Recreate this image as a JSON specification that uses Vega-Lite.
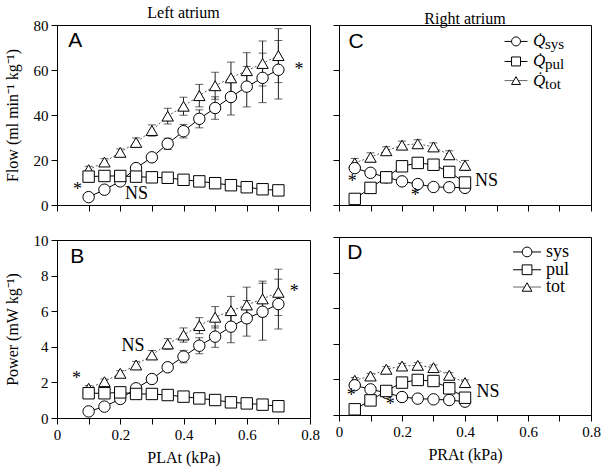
{
  "$schema": "https://vega.github.io/schema/vega-lite/v6.json",
  "padding": {"left": 3, "top": 4, "right": 0, "bottom": 1},
  "background": "white",
  "datasets": {
    "d": [
      {"p":"A","s":"sys","x":0.1,"y":3.5,"e":0},{"p":"A","s":"sys","x":0.15,"y":6.8,"e":0.5},{"p":"A","s":"sys","x":0.2,"y":10.5,"e":0.8},{"p":"A","s":"sys","x":0.25,"y":16.4,"e":1},{"p":"A","s":"sys","x":0.3,"y":21.2,"e":1.5},{"p":"A","s":"sys","x":0.35,"y":27.2,"e":2.5},{"p":"A","s":"sys","x":0.4,"y":32.8,"e":3},{"p":"A","s":"sys","x":0.45,"y":38.3,"e":4},{"p":"A","s":"sys","x":0.5,"y":43.1,"e":5},{"p":"A","s":"sys","x":0.55,"y":48.0,"e":8},{"p":"A","s":"sys","x":0.6,"y":52.6,"e":9},{"p":"A","s":"sys","x":0.65,"y":56.5,"e":11},{"p":"A","s":"sys","x":0.7,"y":60.1,"e":13},
      {"p":"A","s":"tot","x":0.1,"y":15.7,"e":1.5},{"p":"A","s":"tot","x":0.15,"y":19.1,"e":1.5},{"p":"A","s":"tot","x":0.2,"y":23.4,"e":1.5},{"p":"A","s":"tot","x":0.25,"y":27.8,"e":2},{"p":"A","s":"tot","x":0.3,"y":33.1,"e":2.5},{"p":"A","s":"tot","x":0.35,"y":39.5,"e":3.5},{"p":"A","s":"tot","x":0.4,"y":43.9,"e":4},{"p":"A","s":"tot","x":0.45,"y":48.6,"e":5},{"p":"A","s":"tot","x":0.5,"y":53.0,"e":6},{"p":"A","s":"tot","x":0.55,"y":56.5,"e":7},{"p":"A","s":"tot","x":0.6,"y":59.7,"e":8},{"p":"A","s":"tot","x":0.65,"y":62.9,"e":10},{"p":"A","s":"tot","x":0.7,"y":66.4,"e":12},
      {"p":"A","s":"pul","x":0.1,"y":12.6,"e":0.8},{"p":"A","s":"pul","x":0.15,"y":12.9,"e":0.8},{"p":"A","s":"pul","x":0.2,"y":12.9,"e":0.8},{"p":"A","s":"pul","x":0.25,"y":12.6,"e":0.8},{"p":"A","s":"pul","x":0.3,"y":12.3,"e":0.8},{"p":"A","s":"pul","x":0.35,"y":12.1,"e":0.8},{"p":"A","s":"pul","x":0.4,"y":11.2,"e":0.8},{"p":"A","s":"pul","x":0.45,"y":10.5,"e":0.8},{"p":"A","s":"pul","x":0.5,"y":9.7,"e":0.8},{"p":"A","s":"pul","x":0.55,"y":8.8,"e":0.8},{"p":"A","s":"pul","x":0.6,"y":7.9,"e":0.8},{"p":"A","s":"pul","x":0.65,"y":7.0,"e":0.8},{"p":"A","s":"pul","x":0.7,"y":6.5,"e":0.8},
      {"p":"B","s":"sys","x":0.1,"y":0.37,"e":0},{"p":"B","s":"sys","x":0.15,"y":0.64,"e":0.05},{"p":"B","s":"sys","x":0.2,"y":1.07,"e":0.08},{"p":"B","s":"sys","x":0.25,"y":1.67,"e":0.1},{"p":"B","s":"sys","x":0.3,"y":2.19,"e":0.15},{"p":"B","s":"sys","x":0.35,"y":2.85,"e":0.2},{"p":"B","s":"sys","x":0.4,"y":3.45,"e":0.35},{"p":"B","s":"sys","x":0.45,"y":4.06,"e":0.45},{"p":"B","s":"sys","x":0.5,"y":4.57,"e":0.6},{"p":"B","s":"sys","x":0.55,"y":5.13,"e":0.9},{"p":"B","s":"sys","x":0.6,"y":5.6,"e":1.0},{"p":"B","s":"sys","x":0.65,"y":5.97,"e":1.6},{"p":"B","s":"sys","x":0.7,"y":6.4,"e":1.4},
      {"p":"B","s":"tot","x":0.1,"y":1.67,"e":0.15},{"p":"B","s":"tot","x":0.15,"y":2.04,"e":0.15},{"p":"B","s":"tot","x":0.2,"y":2.51,"e":0.15},{"p":"B","s":"tot","x":0.25,"y":2.98,"e":0.2},{"p":"B","s":"tot","x":0.3,"y":3.54,"e":0.25},{"p":"B","s":"tot","x":0.35,"y":4.16,"e":0.3},{"p":"B","s":"tot","x":0.4,"y":4.66,"e":0.4},{"p":"B","s":"tot","x":0.45,"y":5.19,"e":0.45},{"p":"B","s":"tot","x":0.5,"y":5.66,"e":0.6},{"p":"B","s":"tot","x":0.55,"y":6.03,"e":0.8},{"p":"B","s":"tot","x":0.6,"y":6.35,"e":1.0},{"p":"B","s":"tot","x":0.65,"y":6.69,"e":1.0},{"p":"B","s":"tot","x":0.7,"y":7.06,"e":1.3},
      {"p":"B","s":"pul","x":0.1,"y":1.39,"e":0.08},{"p":"B","s":"pul","x":0.15,"y":1.39,"e":0.08},{"p":"B","s":"pul","x":0.2,"y":1.44,"e":0.08},{"p":"B","s":"pul","x":0.25,"y":1.35,"e":0.08},{"p":"B","s":"pul","x":0.3,"y":1.35,"e":0.08},{"p":"B","s":"pul","x":0.35,"y":1.29,"e":0.08},{"p":"B","s":"pul","x":0.4,"y":1.2,"e":0.08},{"p":"B","s":"pul","x":0.45,"y":1.1,"e":0.08},{"p":"B","s":"pul","x":0.5,"y":1.01,"e":0.08},{"p":"B","s":"pul","x":0.55,"y":0.88,"e":0.08},{"p":"B","s":"pul","x":0.6,"y":0.82,"e":0.08},{"p":"B","s":"pul","x":0.65,"y":0.75,"e":0.08},{"p":"B","s":"pul","x":0.7,"y":0.66,"e":0.08},
      {"p":"C","s":"tot","x":0.05,"y":18.7,"e":2},{"p":"C","s":"tot","x":0.1,"y":21.2,"e":2},{"p":"C","s":"tot","x":0.15,"y":24.1,"e":1.8},{"p":"C","s":"tot","x":0.2,"y":26.6,"e":1.8},{"p":"C","s":"tot","x":0.25,"y":27.2,"e":1.8},{"p":"C","s":"tot","x":0.3,"y":25.8,"e":1.8},{"p":"C","s":"tot","x":0.35,"y":22.3,"e":1.8},{"p":"C","s":"tot","x":0.4,"y":17.6,"e":2.2},
      {"p":"C","s":"sys","x":0.05,"y":16.4,"e":0.8},{"p":"C","s":"sys","x":0.1,"y":14.3,"e":0.8},{"p":"C","s":"sys","x":0.15,"y":12.3,"e":0.8},{"p":"C","s":"sys","x":0.2,"y":10.5,"e":0.8},{"p":"C","s":"sys","x":0.25,"y":9.3,"e":0.8},{"p":"C","s":"sys","x":0.3,"y":8.0,"e":0.8},{"p":"C","s":"sys","x":0.35,"y":7.9,"e":0.8},{"p":"C","s":"sys","x":0.4,"y":7.6,"e":0.8},
      {"p":"C","s":"pul","x":0.05,"y":2.7,"e":1},{"p":"C","s":"pul","x":0.1,"y":7.6,"e":1},{"p":"C","s":"pul","x":0.15,"y":12.3,"e":1},{"p":"C","s":"pul","x":0.2,"y":17.2,"e":1},{"p":"C","s":"pul","x":0.25,"y":18.7,"e":1},{"p":"C","s":"pul","x":0.3,"y":17.9,"e":1},{"p":"C","s":"pul","x":0.35,"y":14.7,"e":1},{"p":"C","s":"pul","x":0.4,"y":10.0,"e":1},
      {"p":"D","s":"tot","x":0.05,"y":1.95,"e":0.15},{"p":"D","s":"tot","x":0.1,"y":2.19,"e":0.15},{"p":"D","s":"tot","x":0.15,"y":2.57,"e":0.15},{"p":"D","s":"tot","x":0.2,"y":2.75,"e":0.15},{"p":"D","s":"tot","x":0.25,"y":2.79,"e":0.15},{"p":"D","s":"tot","x":0.3,"y":2.66,"e":0.15},{"p":"D","s":"tot","x":0.35,"y":2.23,"e":0.15},{"p":"D","s":"tot","x":0.4,"y":1.82,"e":0.15},
      {"p":"D","s":"sys","x":0.05,"y":1.67,"e":0.08},{"p":"D","s":"sys","x":0.1,"y":1.44,"e":0.08},{"p":"D","s":"sys","x":0.15,"y":1.25,"e":0.08},{"p":"D","s":"sys","x":0.2,"y":1.01,"e":0.08},{"p":"D","s":"sys","x":0.25,"y":0.92,"e":0.08},{"p":"D","s":"sys","x":0.3,"y":0.88,"e":0.08},{"p":"D","s":"sys","x":0.35,"y":0.84,"e":0.08},{"p":"D","s":"sys","x":0.4,"y":0.75,"e":0.08},
      {"p":"D","s":"pul","x":0.05,"y":0.32,"e":0.08},{"p":"D","s":"pul","x":0.1,"y":0.82,"e":0.08},{"p":"D","s":"pul","x":0.15,"y":1.35,"e":0.08},{"p":"D","s":"pul","x":0.2,"y":1.82,"e":0.08},{"p":"D","s":"pul","x":0.25,"y":1.97,"e":0.08},{"p":"D","s":"pul","x":0.3,"y":1.91,"e":0.08},{"p":"D","s":"pul","x":0.35,"y":1.5,"e":0.08},{"p":"D","s":"pul","x":0.4,"y":0.97,"e":0.08}
    ],
    "t": [
      {"p":"A","k":"L","x":0.058,"y":73.0,"txt":"A"},{"p":"A","k":"N","x":0.065,"y":6.8,"txt":"*"},{"p":"A","k":"N","x":0.251,"y":5.0,"txt":"NS"},{"p":"A","k":"N","x":0.765,"y":60.2,"txt":"*"},
      {"p":"B","k":"L","x":0.064,"y":9.05,"txt":"B"},{"p":"B","k":"N","x":0.062,"y":2.19,"txt":"*"},{"p":"B","k":"N","x":0.24,"y":4.06,"txt":"NS"},{"p":"B","k":"N","x":0.75,"y":7.06,"txt":"*"},
      {"p":"C","k":"L","x":0.054,"y":72.5,"txt":"C"},{"p":"C","k":"N","x":0.042,"y":10.2,"txt":"*"},{"p":"C","k":"N","x":0.242,"y":3.8,"txt":"*"},{"p":"C","k":"N","x":0.468,"y":10.5,"txt":"NS"},
      {"p":"D","k":"L","x":0.05,"y":9.08,"txt":"D"},{"p":"D","k":"N","x":0.039,"y":1.07,"txt":"*"},{"p":"D","k":"N","x":0.163,"y":0.54,"txt":"*"},{"p":"D","k":"N","x":0.473,"y":1.31,"txt":"NS"}
    ],
    "k": [
      {"p":"C","s":"sys","x":0.562,"y":72.7,"q":"Q\u0307","sub":"sys"},
      {"p":"C","s":"pul","x":0.562,"y":63.8,"q":"Q\u0307","sub":"pul"},
      {"p":"C","s":"tot","x":0.562,"y":55.3,"q":"Q\u0307","sub":"tot"},
      {"p":"D","s":"sys","x":0.597,"y":9.16,"q":"","sub":"sys"},
      {"p":"D","s":"pul","x":0.597,"y":8.16,"q":"","sub":"pul"},
      {"p":"D","s":"tot","x":0.597,"y":7.19,"q":"","sub":"tot"}
    ]
  },
  "spacing": 12,
  "resolve": {"scale": {"x": "independent", "y": "independent", "shape": "independent"}},
  "hconcat": [
    {
      "spacing": 18,
      "resolve": {"scale": {"x": "independent", "y": "independent", "shape": "independent"}},
      "vconcat": [
        {
          "width": 253, "height": 180,
          "title": {"text": "Left atrium", "font": "Liberation Serif", "fontSize": 16, "fontWeight": "normal", "offset": -2.5},
          "layer": [
            {"data": {"name": "d"}, "transform": [{"filter": "datum.p=='A'"}],
             "mark": {"type": "errorbar", "ticks": {"size": 8}, "color": "#222", "thickness": 1},
             "encoding": {"x": {"field": "x", "type": "quantitative", "scale": {"domain": [0, 0.8], "nice": false}, "axis": {"values": [0, 0.1, 0.2, 0.3, 0.4, 0.5, 0.6, 0.7, 0.8], "labels": false, "title": null, "labelOverlap": false}},
                          "y": {"field": "y", "type": "quantitative", "scale": {"domain": [0, 80], "nice": false}, "axis": {"values": [0, 20, 40, 60, 80], "labelOverlap": false, "title": "Flow (ml min⁻¹ kg⁻¹)", "titlePadding": 13}},
                          "yError": {"field": "e"}}},
            {"data": {"name": "d"}, "transform": [{"filter": "datum.p=='A' && datum.s!='tot'"}],
             "mark": {"type": "line", "strokeWidth": 1, "color": "black"},
             "encoding": {"x": {"field": "x", "type": "quantitative", "axis": {"values": [0, 0.1, 0.2, 0.3, 0.4, 0.5, 0.6, 0.7, 0.8], "labels": false, "title": null, "labelOverlap": false}},
                          "y": {"field": "y", "type": "quantitative", "axis": {"values": [0, 20, 40, 60, 80], "labelOverlap": false, "title": "Flow (ml min⁻¹ kg⁻¹)", "titlePadding": 13}}, "detail": {"field": "s"}}},
            {"data": {"name": "d"}, "transform": [{"filter": "datum.p=='A' && datum.s=='tot'"}],
             "mark": {"type": "line", "strokeWidth": 1, "color": "#555", "strokeDash": [2, 2]},
             "encoding": {"x": {"field": "x", "type": "quantitative", "axis": {"values": [0, 0.1, 0.2, 0.3, 0.4, 0.5, 0.6, 0.7, 0.8], "labels": false, "title": null, "labelOverlap": false}},
                          "y": {"field": "y", "type": "quantitative", "axis": {"values": [0, 20, 40, 60, 80], "labelOverlap": false, "title": "Flow (ml min⁻¹ kg⁻¹)", "titlePadding": 13}}}},
            {"data": {"name": "d"}, "transform": [{"filter": "datum.p=='A'"}],
             "mark": {"type": "point", "fill": "white", "fillOpacity": 1, "stroke": "black", "strokeWidth": 1, "opacity": 1, "size": 130},
             "encoding": {"x": {"field": "x", "type": "quantitative", "axis": {"values": [0, 0.1, 0.2, 0.3, 0.4, 0.5, 0.6, 0.7, 0.8], "labels": false, "title": null, "labelOverlap": false}},
                          "y": {"field": "y", "type": "quantitative", "axis": {"values": [0, 20, 40, 60, 80], "labelOverlap": false, "title": "Flow (ml min⁻¹ kg⁻¹)", "titlePadding": 13}},
                          "shape": {"field": "s", "scale": {"domain": ["sys", "pul", "tot"], "range": ["circle", "square", "triangle-up"]}, "legend": null}}},
            {"data": {"name": "t"}, "transform": [{"filter": "datum.p=='A' && datum.k=='L'"}],
             "mark": {"type": "text", "font": "Liberation Sans", "fontSize": 21, "baseline": "middle", "align": "center"},
             "encoding": {"x": {"field": "x", "type": "quantitative", "axis": {"values": [0, 0.1, 0.2, 0.3, 0.4, 0.5, 0.6, 0.7, 0.8], "labels": false, "title": null, "labelOverlap": false}},
                          "y": {"field": "y", "type": "quantitative", "axis": {"values": [0, 20, 40, 60, 80], "labelOverlap": false, "title": "Flow (ml min⁻¹ kg⁻¹)", "titlePadding": 13}}, "text": {"field": "txt"}}},
            {"data": {"name": "t"}, "transform": [{"filter": "datum.p=='A' && datum.k=='N'"}],
             "mark": {"type": "text", "font": "Liberation Serif", "fontSize": 18, "baseline": "middle", "align": "center"},
             "encoding": {"x": {"field": "x", "type": "quantitative", "axis": {"values": [0, 0.1, 0.2, 0.3, 0.4, 0.5, 0.6, 0.7, 0.8], "labels": false, "title": null, "labelOverlap": false}},
                          "y": {"field": "y", "type": "quantitative", "axis": {"values": [0, 20, 40, 60, 80], "labelOverlap": false, "title": "Flow (ml min⁻¹ kg⁻¹)", "titlePadding": 13}}, "text": {"field": "txt"}}}
          ]
        },
        {
          "width": 253, "height": 178,
          "layer": [
            {"data": {"name": "d"}, "transform": [{"filter": "datum.p=='B'"}],
             "mark": {"type": "errorbar", "ticks": {"size": 8}, "color": "#222", "thickness": 1},
             "encoding": {"x": {"field": "x", "type": "quantitative", "scale": {"domain": [0, 0.8], "nice": false}, "axis": {"values": [0, 0.1, 0.2, 0.3, 0.4, 0.5, 0.6, 0.7, 0.8], "labelOverlap": false, "labelExpr": "round(datum.value*10) % 2 == 0 ? (datum.value == 0 ? '0' : format(datum.value, '.1f')) : ''", "title": "PLAt (kPa)", "titlePadding": 7}},
                          "y": {"field": "y", "type": "quantitative", "scale": {"domain": [0, 10], "nice": false}, "axis": {"values": [0, 2, 4, 6, 8, 10], "labelOverlap": false, "title": "Power (mW kg⁻¹)", "titlePadding": 13}},
                          "yError": {"field": "e"}}},
            {"data": {"name": "d"}, "transform": [{"filter": "datum.p=='B' && datum.s!='tot'"}],
             "mark": {"type": "line", "strokeWidth": 1, "color": "black"},
             "encoding": {"x": {"field": "x", "type": "quantitative", "axis": {"values": [0, 0.1, 0.2, 0.3, 0.4, 0.5, 0.6, 0.7, 0.8], "labelOverlap": false, "labelExpr": "round(datum.value*10) % 2 == 0 ? (datum.value == 0 ? '0' : format(datum.value, '.1f')) : ''", "title": "PLAt (kPa)", "titlePadding": 7}},
                          "y": {"field": "y", "type": "quantitative", "axis": {"values": [0, 2, 4, 6, 8, 10], "labelOverlap": false, "title": "Power (mW kg⁻¹)", "titlePadding": 13}}, "detail": {"field": "s"}}},
            {"data": {"name": "d"}, "transform": [{"filter": "datum.p=='B' && datum.s=='tot'"}],
             "mark": {"type": "line", "strokeWidth": 1, "color": "#555", "strokeDash": [2, 2]},
             "encoding": {"x": {"field": "x", "type": "quantitative", "axis": {"values": [0, 0.1, 0.2, 0.3, 0.4, 0.5, 0.6, 0.7, 0.8], "labelOverlap": false, "labelExpr": "round(datum.value*10) % 2 == 0 ? (datum.value == 0 ? '0' : format(datum.value, '.1f')) : ''", "title": "PLAt (kPa)", "titlePadding": 7}},
                          "y": {"field": "y", "type": "quantitative", "axis": {"values": [0, 2, 4, 6, 8, 10], "labelOverlap": false, "title": "Power (mW kg⁻¹)", "titlePadding": 13}}}},
            {"data": {"name": "d"}, "transform": [{"filter": "datum.p=='B'"}],
             "mark": {"type": "point", "fill": "white", "fillOpacity": 1, "stroke": "black", "strokeWidth": 1, "opacity": 1, "size": 130},
             "encoding": {"x": {"field": "x", "type": "quantitative", "axis": {"values": [0, 0.1, 0.2, 0.3, 0.4, 0.5, 0.6, 0.7, 0.8], "labelOverlap": false, "labelExpr": "round(datum.value*10) % 2 == 0 ? (datum.value == 0 ? '0' : format(datum.value, '.1f')) : ''", "title": "PLAt (kPa)", "titlePadding": 7}},
                          "y": {"field": "y", "type": "quantitative", "axis": {"values": [0, 2, 4, 6, 8, 10], "labelOverlap": false, "title": "Power (mW kg⁻¹)", "titlePadding": 13}},
                          "shape": {"field": "s", "scale": {"domain": ["sys", "pul", "tot"], "range": ["circle", "square", "triangle-up"]}, "legend": null}}},
            {"data": {"name": "t"}, "transform": [{"filter": "datum.p=='B' && datum.k=='L'"}],
             "mark": {"type": "text", "font": "Liberation Sans", "fontSize": 21, "baseline": "middle", "align": "center"},
             "encoding": {"x": {"field": "x", "type": "quantitative", "axis": {"values": [0, 0.1, 0.2, 0.3, 0.4, 0.5, 0.6, 0.7, 0.8], "labelOverlap": false, "labelExpr": "round(datum.value*10) % 2 == 0 ? (datum.value == 0 ? '0' : format(datum.value, '.1f')) : ''", "title": "PLAt (kPa)", "titlePadding": 7}},
                          "y": {"field": "y", "type": "quantitative", "axis": {"values": [0, 2, 4, 6, 8, 10], "labelOverlap": false, "title": "Power (mW kg⁻¹)", "titlePadding": 13}}, "text": {"field": "txt"}}},
            {"data": {"name": "t"}, "transform": [{"filter": "datum.p=='B' && datum.k=='N'"}],
             "mark": {"type": "text", "font": "Liberation Serif", "fontSize": 18, "baseline": "middle", "align": "center"},
             "encoding": {"x": {"field": "x", "type": "quantitative", "axis": {"values": [0, 0.1, 0.2, 0.3, 0.4, 0.5, 0.6, 0.7, 0.8], "labelOverlap": false, "labelExpr": "round(datum.value*10) % 2 == 0 ? (datum.value == 0 ? '0' : format(datum.value, '.1f')) : ''", "title": "PLAt (kPa)", "titlePadding": 7}},
                          "y": {"field": "y", "type": "quantitative", "axis": {"values": [0, 2, 4, 6, 8, 10], "labelOverlap": false, "title": "Power (mW kg⁻¹)", "titlePadding": 13}}, "text": {"field": "txt"}}}
          ]
        }
      ]
    },
    {
      "spacing": 24,
      "resolve": {"scale": {"x": "independent", "y": "independent", "shape": "independent"}},
      "vconcat": [
        {
          "width": 252, "height": 180,
          "title": {"text": "Right atrium", "font": "Liberation Serif", "fontSize": 16, "fontWeight": "normal", "offset": -2.5},
          "layer": [
            {"data": {"name": "d"}, "transform": [{"filter": "datum.p=='C'"}],
             "mark": {"type": "errorbar", "ticks": {"size": 8}, "color": "#222", "thickness": 1},
             "encoding": {"x": {"field": "x", "type": "quantitative", "scale": {"domain": [0, 0.8], "nice": false}, "axis": {"values": [0, 0.1, 0.2, 0.3, 0.4, 0.5, 0.6, 0.7, 0.8], "labels": false, "title": null, "labelOverlap": false}},
                          "y": {"field": "y", "type": "quantitative", "scale": {"domain": [0, 80], "nice": false}, "axis": {"values": [0, 20, 40, 60, 80], "labels": false, "title": null, "labelOverlap": false}},
                          "yError": {"field": "e"}}},
            {"data": {"name": "d"}, "transform": [{"filter": "datum.p=='C' && datum.s!='tot'"}],
             "mark": {"type": "line", "strokeWidth": 1, "color": "black"},
             "encoding": {"x": {"field": "x", "type": "quantitative", "axis": {"values": [0, 0.1, 0.2, 0.3, 0.4, 0.5, 0.6, 0.7, 0.8], "labels": false, "title": null, "labelOverlap": false}},
                          "y": {"field": "y", "type": "quantitative", "axis": {"values": [0, 20, 40, 60, 80], "labels": false, "title": null, "labelOverlap": false}}, "detail": {"field": "s"}}},
            {"data": {"name": "d"}, "transform": [{"filter": "datum.p=='C' && datum.s=='tot'"}],
             "mark": {"type": "line", "strokeWidth": 1, "color": "#555", "strokeDash": [2, 2]},
             "encoding": {"x": {"field": "x", "type": "quantitative", "axis": {"values": [0, 0.1, 0.2, 0.3, 0.4, 0.5, 0.6, 0.7, 0.8], "labels": false, "title": null, "labelOverlap": false}},
                          "y": {"field": "y", "type": "quantitative", "axis": {"values": [0, 20, 40, 60, 80], "labels": false, "title": null, "labelOverlap": false}}}},
            {"data": {"name": "d"}, "transform": [{"filter": "datum.p=='C'"}],
             "mark": {"type": "point", "fill": "white", "fillOpacity": 1, "stroke": "black", "strokeWidth": 1, "opacity": 1, "size": 130},
             "encoding": {"x": {"field": "x", "type": "quantitative", "axis": {"values": [0, 0.1, 0.2, 0.3, 0.4, 0.5, 0.6, 0.7, 0.8], "labels": false, "title": null, "labelOverlap": false}},
                          "y": {"field": "y", "type": "quantitative", "axis": {"values": [0, 20, 40, 60, 80], "labels": false, "title": null, "labelOverlap": false}},
                          "shape": {"field": "s", "scale": {"domain": ["sys", "pul", "tot"], "range": ["circle", "square", "triangle-up"]}, "legend": null}}},
            {"data": {"name": "k"}, "transform": [{"filter": "datum.p=='C' && datum.s!='tot'"}],
             "mark": {"type": "tick", "orient": "horizontal", "size": 23, "thickness": 1, "color": "black", "opacity": 1},
             "encoding": {"x": {"field": "x", "type": "quantitative", "axis": {"values": [0, 0.1, 0.2, 0.3, 0.4, 0.5, 0.6, 0.7, 0.8], "labels": false, "title": null, "labelOverlap": false}},
                          "y": {"field": "y", "type": "quantitative", "axis": {"values": [0, 20, 40, 60, 80], "labels": false, "title": null, "labelOverlap": false}}}},
            {"data": {"name": "k"}, "transform": [{"filter": "datum.p=='C' && datum.s=='tot'"}],
             "mark": {"type": "tick", "orient": "horizontal", "size": 23, "thickness": 1, "color": "#666", "opacity": 1, "strokeDash": [1.5, 1.5]},
             "encoding": {"x": {"field": "x", "type": "quantitative", "axis": {"values": [0, 0.1, 0.2, 0.3, 0.4, 0.5, 0.6, 0.7, 0.8], "labels": false, "title": null, "labelOverlap": false}},
                          "y": {"field": "y", "type": "quantitative", "axis": {"values": [0, 20, 40, 60, 80], "labels": false, "title": null, "labelOverlap": false}}}},
            {"data": {"name": "k"}, "transform": [{"filter": "datum.p=='C'"}],
             "mark": {"type": "point", "fill": "white", "fillOpacity": 1, "stroke": "black", "strokeWidth": 1, "opacity": 1, "size": 80},
             "encoding": {"x": {"field": "x", "type": "quantitative", "axis": {"values": [0, 0.1, 0.2, 0.3, 0.4, 0.5, 0.6, 0.7, 0.8], "labels": false, "title": null, "labelOverlap": false}},
                          "y": {"field": "y", "type": "quantitative", "axis": {"values": [0, 20, 40, 60, 80], "labels": false, "title": null, "labelOverlap": false}},
                          "shape": {"field": "s", "scale": {"domain": ["sys", "pul", "tot"], "range": ["circle", "square", "triangle-up"]}, "legend": null}}},
            {"data": {"name": "k"}, "transform": [{"filter": "datum.p=='C'"}],
             "mark": {"type": "text", "font": "Liberation Serif", "fontStyle": "italic", "fontSize": 17, "baseline": "middle", "align": "left", "dx": 17},
             "encoding": {"x": {"field": "x", "type": "quantitative", "axis": {"values": [0, 0.1, 0.2, 0.3, 0.4, 0.5, 0.6, 0.7, 0.8], "labels": false, "title": null, "labelOverlap": false}},
                          "y": {"field": "y", "type": "quantitative", "axis": {"values": [0, 20, 40, 60, 80], "labels": false, "title": null, "labelOverlap": false}}, "text": {"field": "q"}}},
            {"data": {"name": "k"}, "transform": [{"filter": "datum.p=='C'"}],
             "mark": {"type": "text", "font": "Liberation Serif", "fontSize": 15, "baseline": "middle", "align": "left", "dx": 29, "dy": 3},
             "encoding": {"x": {"field": "x", "type": "quantitative", "axis": {"values": [0, 0.1, 0.2, 0.3, 0.4, 0.5, 0.6, 0.7, 0.8], "labels": false, "title": null, "labelOverlap": false}},
                          "y": {"field": "y", "type": "quantitative", "axis": {"values": [0, 20, 40, 60, 80], "labels": false, "title": null, "labelOverlap": false}}, "text": {"field": "sub"}}},
            {"data": {"name": "t"}, "transform": [{"filter": "datum.p=='C' && datum.k=='L'"}],
             "mark": {"type": "text", "font": "Liberation Sans", "fontSize": 21, "baseline": "middle", "align": "center"},
             "encoding": {"x": {"field": "x", "type": "quantitative", "axis": {"values": [0, 0.1, 0.2, 0.3, 0.4, 0.5, 0.6, 0.7, 0.8], "labels": false, "title": null, "labelOverlap": false}},
                          "y": {"field": "y", "type": "quantitative", "axis": {"values": [0, 20, 40, 60, 80], "labels": false, "title": null, "labelOverlap": false}}, "text": {"field": "txt"}}},
            {"data": {"name": "t"}, "transform": [{"filter": "datum.p=='C' && datum.k=='N'"}],
             "mark": {"type": "text", "font": "Liberation Serif", "fontSize": 18, "baseline": "middle", "align": "center"},
             "encoding": {"x": {"field": "x", "type": "quantitative", "axis": {"values": [0, 0.1, 0.2, 0.3, 0.4, 0.5, 0.6, 0.7, 0.8], "labels": false, "title": null, "labelOverlap": false}},
                          "y": {"field": "y", "type": "quantitative", "axis": {"values": [0, 20, 40, 60, 80], "labels": false, "title": null, "labelOverlap": false}}, "text": {"field": "txt"}}}
          ]
        },
        {
          "width": 252, "height": 178,
          "layer": [
            {"data": {"name": "d"}, "transform": [{"filter": "datum.p=='D'"}],
             "mark": {"type": "errorbar", "ticks": {"size": 8}, "color": "#222", "thickness": 1},
             "encoding": {"x": {"field": "x", "type": "quantitative", "scale": {"domain": [0, 0.8], "nice": false}, "axis": {"values": [0, 0.1, 0.2, 0.3, 0.4, 0.5, 0.6, 0.7, 0.8], "labelOverlap": false, "labelExpr": "round(datum.value*10) % 2 == 0 ? (datum.value == 0 ? '0' : format(datum.value, '.1f')) : ''", "title": "PRAt (kPa)", "titlePadding": 7}},
                          "y": {"field": "y", "type": "quantitative", "scale": {"domain": [0, 10], "nice": false}, "axis": {"values": [0, 2, 4, 6, 8, 10], "labels": false, "title": null, "labelOverlap": false}},
                          "yError": {"field": "e"}}},
            {"data": {"name": "d"}, "transform": [{"filter": "datum.p=='D' && datum.s!='tot'"}],
             "mark": {"type": "line", "strokeWidth": 1, "color": "black"},
             "encoding": {"x": {"field": "x", "type": "quantitative", "axis": {"values": [0, 0.1, 0.2, 0.3, 0.4, 0.5, 0.6, 0.7, 0.8], "labelOverlap": false, "labelExpr": "round(datum.value*10) % 2 == 0 ? (datum.value == 0 ? '0' : format(datum.value, '.1f')) : ''", "title": "PRAt (kPa)", "titlePadding": 7}},
                          "y": {"field": "y", "type": "quantitative", "axis": {"values": [0, 2, 4, 6, 8, 10], "labels": false, "title": null, "labelOverlap": false}}, "detail": {"field": "s"}}},
            {"data": {"name": "d"}, "transform": [{"filter": "datum.p=='D' && datum.s=='tot'"}],
             "mark": {"type": "line", "strokeWidth": 1, "color": "#555", "strokeDash": [2, 2]},
             "encoding": {"x": {"field": "x", "type": "quantitative", "axis": {"values": [0, 0.1, 0.2, 0.3, 0.4, 0.5, 0.6, 0.7, 0.8], "labelOverlap": false, "labelExpr": "round(datum.value*10) % 2 == 0 ? (datum.value == 0 ? '0' : format(datum.value, '.1f')) : ''", "title": "PRAt (kPa)", "titlePadding": 7}},
                          "y": {"field": "y", "type": "quantitative", "axis": {"values": [0, 2, 4, 6, 8, 10], "labels": false, "title": null, "labelOverlap": false}}}},
            {"data": {"name": "d"}, "transform": [{"filter": "datum.p=='D'"}],
             "mark": {"type": "point", "fill": "white", "fillOpacity": 1, "stroke": "black", "strokeWidth": 1, "opacity": 1, "size": 130},
             "encoding": {"x": {"field": "x", "type": "quantitative", "axis": {"values": [0, 0.1, 0.2, 0.3, 0.4, 0.5, 0.6, 0.7, 0.8], "labelOverlap": false, "labelExpr": "round(datum.value*10) % 2 == 0 ? (datum.value == 0 ? '0' : format(datum.value, '.1f')) : ''", "title": "PRAt (kPa)", "titlePadding": 7}},
                          "y": {"field": "y", "type": "quantitative", "axis": {"values": [0, 2, 4, 6, 8, 10], "labels": false, "title": null, "labelOverlap": false}},
                          "shape": {"field": "s", "scale": {"domain": ["sys", "pul", "tot"], "range": ["circle", "square", "triangle-up"]}, "legend": null}}},
            {"data": {"name": "k"}, "transform": [{"filter": "datum.p=='D' && datum.s!='tot'"}],
             "mark": {"type": "tick", "orient": "horizontal", "size": 28, "thickness": 1, "color": "black", "opacity": 1},
             "encoding": {"x": {"field": "x", "type": "quantitative", "axis": {"values": [0, 0.1, 0.2, 0.3, 0.4, 0.5, 0.6, 0.7, 0.8], "labelOverlap": false, "labelExpr": "round(datum.value*10) % 2 == 0 ? (datum.value == 0 ? '0' : format(datum.value, '.1f')) : ''", "title": "PRAt (kPa)", "titlePadding": 7}},
                          "y": {"field": "y", "type": "quantitative", "axis": {"values": [0, 2, 4, 6, 8, 10], "labels": false, "title": null, "labelOverlap": false}}}},
            {"data": {"name": "k"}, "transform": [{"filter": "datum.p=='D' && datum.s=='tot'"}],
             "mark": {"type": "tick", "orient": "horizontal", "size": 28, "thickness": 1, "color": "#666", "opacity": 1, "strokeDash": [1.5, 1.5]},
             "encoding": {"x": {"field": "x", "type": "quantitative", "axis": {"values": [0, 0.1, 0.2, 0.3, 0.4, 0.5, 0.6, 0.7, 0.8], "labelOverlap": false, "labelExpr": "round(datum.value*10) % 2 == 0 ? (datum.value == 0 ? '0' : format(datum.value, '.1f')) : ''", "title": "PRAt (kPa)", "titlePadding": 7}},
                          "y": {"field": "y", "type": "quantitative", "axis": {"values": [0, 2, 4, 6, 8, 10], "labels": false, "title": null, "labelOverlap": false}}}},
            {"data": {"name": "k"}, "transform": [{"filter": "datum.p=='D'"}],
             "mark": {"type": "point", "fill": "white", "fillOpacity": 1, "stroke": "black", "strokeWidth": 1, "opacity": 1, "size": 95},
             "encoding": {"x": {"field": "x", "type": "quantitative", "axis": {"values": [0, 0.1, 0.2, 0.3, 0.4, 0.5, 0.6, 0.7, 0.8], "labelOverlap": false, "labelExpr": "round(datum.value*10) % 2 == 0 ? (datum.value == 0 ? '0' : format(datum.value, '.1f')) : ''", "title": "PRAt (kPa)", "titlePadding": 7}},
                          "y": {"field": "y", "type": "quantitative", "axis": {"values": [0, 2, 4, 6, 8, 10], "labels": false, "title": null, "labelOverlap": false}},
                          "shape": {"field": "s", "scale": {"domain": ["sys", "pul", "tot"], "range": ["circle", "square", "triangle-up"]}, "legend": null}}},
            {"data": {"name": "k"}, "transform": [{"filter": "datum.p=='D'"}],
             "mark": {"type": "text", "font": "Liberation Serif", "fontSize": 18, "baseline": "middle", "align": "left", "dx": 19},
             "encoding": {"x": {"field": "x", "type": "quantitative", "axis": {"values": [0, 0.1, 0.2, 0.3, 0.4, 0.5, 0.6, 0.7, 0.8], "labelOverlap": false, "labelExpr": "round(datum.value*10) % 2 == 0 ? (datum.value == 0 ? '0' : format(datum.value, '.1f')) : ''", "title": "PRAt (kPa)", "titlePadding": 7}},
                          "y": {"field": "y", "type": "quantitative", "axis": {"values": [0, 2, 4, 6, 8, 10], "labels": false, "title": null, "labelOverlap": false}}, "text": {"field": "sub"}}},
            {"data": {"name": "t"}, "transform": [{"filter": "datum.p=='D' && datum.k=='L'"}],
             "mark": {"type": "text", "font": "Liberation Sans", "fontSize": 21, "baseline": "middle", "align": "center"},
             "encoding": {"x": {"field": "x", "type": "quantitative", "axis": {"values": [0, 0.1, 0.2, 0.3, 0.4, 0.5, 0.6, 0.7, 0.8], "labelOverlap": false, "labelExpr": "round(datum.value*10) % 2 == 0 ? (datum.value == 0 ? '0' : format(datum.value, '.1f')) : ''", "title": "PRAt (kPa)", "titlePadding": 7}},
                          "y": {"field": "y", "type": "quantitative", "axis": {"values": [0, 2, 4, 6, 8, 10], "labels": false, "title": null, "labelOverlap": false}}, "text": {"field": "txt"}}},
            {"data": {"name": "t"}, "transform": [{"filter": "datum.p=='D' && datum.k=='N'"}],
             "mark": {"type": "text", "font": "Liberation Serif", "fontSize": 18, "baseline": "middle", "align": "center"},
             "encoding": {"x": {"field": "x", "type": "quantitative", "axis": {"values": [0, 0.1, 0.2, 0.3, 0.4, 0.5, 0.6, 0.7, 0.8], "labelOverlap": false, "labelExpr": "round(datum.value*10) % 2 == 0 ? (datum.value == 0 ? '0' : format(datum.value, '.1f')) : ''", "title": "PRAt (kPa)", "titlePadding": 7}},
                          "y": {"field": "y", "type": "quantitative", "axis": {"values": [0, 2, 4, 6, 8, 10], "labels": false, "title": null, "labelOverlap": false}}, "text": {"field": "txt"}}}
          ]
        }
      ]
    }
  ],
  "config": {
    "font": "Liberation Serif",
    "view": {"stroke": "black", "strokeWidth": 1},
    "axis": {"labelFont": "Liberation Serif", "labelFontSize": 15, "labelColor": "black", "titleFont": "Liberation Serif", "titleFontSize": 16, "titleFontWeight": "normal", "titleColor": "black", "domainColor": "black", "tickColor": "black", "tickSize": 6, "labelPadding": 3, "grid": false, "labelFlush": false, "labelOverlap": false},
    "axisY": {"labelOverlap": false},
    "axisQuantitative": {"labelOverlap": false}
  }
}
